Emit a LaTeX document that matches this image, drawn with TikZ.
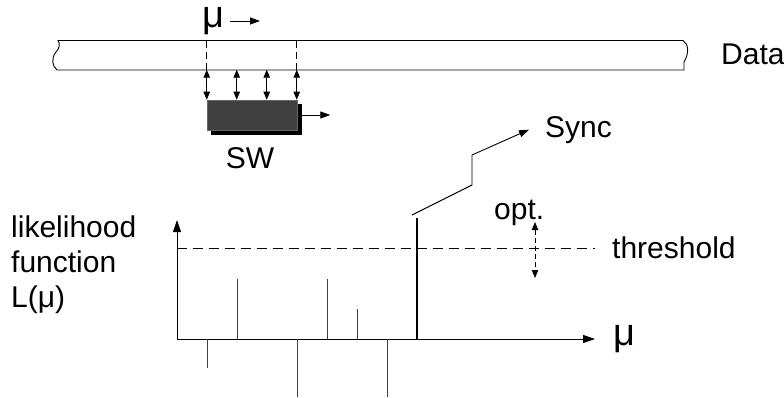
\documentclass[tikz,border=0pt]{standalone}
\usepackage{fontspec}
\setmainfont{Liberation Sans}
\usetikzlibrary{positioning,arrows.meta}

\begin{document}
\begin{tikzpicture}[
  x=1pt, y=-1pt,
  font=\fontsize{30}{35}\selectfont,
  >={Triangle[length=10pt,width=7pt]},
  lbl/.style={inner sep=0pt},
  greek/.style={inner sep=0pt, text height=19pt, text depth=8pt,
    font=\fontsize{38}{38}\selectfont},
  band/.style={line width=0.9pt, draw=black},
  win/.style={
    rectangle, fill=black!75, draw=black!60, line width=0.5pt,
    minimum width=90pt, minimum height=30pt, inner sep=0pt
  },
  winshade/.style={win, fill=black, draw=black},
  arr/.style={->, line width=0.9pt},
  dblarr/.style={<->, line width=0.9pt, >={Triangle[length=8pt,width=6.5pt]}},
  guide/.style={line width=0.8pt, dash pattern=on 7pt off 4pt},
  thr/.style={line width=0.9pt, dash pattern=on 10pt off 6pt},
  optarr/.style={dblarr, dash pattern=on 5pt off 3pt},
  spike/.style={line width=1pt, draw=black!75},
  axis/.style={->, line width=1pt, >={Triangle[length=12pt,width=8pt]}}
]
\useasboundingbox (0,0) rectangle (784,398);

% data stream with broken ends
\draw[band] (58,40.5) -- (683,40.5) .. controls (689,44) and (689,54) .. (684,62)
  -- (684,70) -- (57,70) .. controls (52,66) and (51,58) .. (56,52)
  .. controls (60,48) and (60,43) .. (58,40.5) -- cycle;
\node[lbl, anchor=base west] (datalbl) at (721,65) {Data};

% sliding window
\node[winshade] (shade) at (256,119.5) {};
\node[win] (win) at (252,115) {};
\node[lbl] (swlbl) at (250,158) {SW};
\draw[arr] (win.east -| shade.east) -- ++(29,0) coordinate (winmove);

\foreach \i in {0,...,3}
  \draw[dblarr] ([xshift=\i*30pt]win.north west) -- ++(0,-30) coordinate (tap\i);
\draw[guide] (tap0) -- ++(0,-29.5);
\draw[guide] (tap3) -- ++(0,-29.5);

\node[greek, anchor=base] (mutop) at (213,28) {μ};
\coordinate (mustart) at (230,21);
\draw[arr] (mustart) -- ++(30,0);

% likelihood plot
\coordinate (O) at (177,339);
\coordinate (ytip) at (177,220);
\coordinate (xtip) at (595,339);
\draw[axis] (O) -- (ytip);
\draw[axis] (O) -- (xtip);
\node[greek, anchor=base west] (mulbl) at (613,345) {μ};

\node[lbl, anchor=north west, align=left] (ylbl) at (11,216)
  {likelihood\\function\\L(μ)};

\foreach \x/\h in {207/29, 237/-60, 297/58, 327/-60, 357/-30, 387/58}
  \draw[spike] (\x,339) -- ++(0,\h);
\coordinate (peak) at (417,218);
\draw[line width=1.8pt] (peak |- O) -- (peak);

% threshold and its adjustment
\coordinate (thrstart) at (177,248);
\node[lbl, anchor=base west] (thrlbl) at (612,258) {threshold};
\draw[thr] (thrstart) -- (thrstart -| xtip);
\coordinate (optup) at (535,222);
\draw[optarr] (optup) -- ++(0,56);
\node[lbl, anchor=base west] (optlbl) at (494,219) {opt.};

% sync output
\node[lbl, anchor=base west] (synclbl) at (545,138) {Sync};
\coordinate (syncA) at (412,215);
\coordinate (syncB) at (472,185);
\coordinate (syncC) at (472,155);
\draw[arr] (syncA) -- (syncB) -- (syncC) -- ([xshift=-16pt,yshift=1pt]synclbl.west);

\end{tikzpicture}
\end{document}
